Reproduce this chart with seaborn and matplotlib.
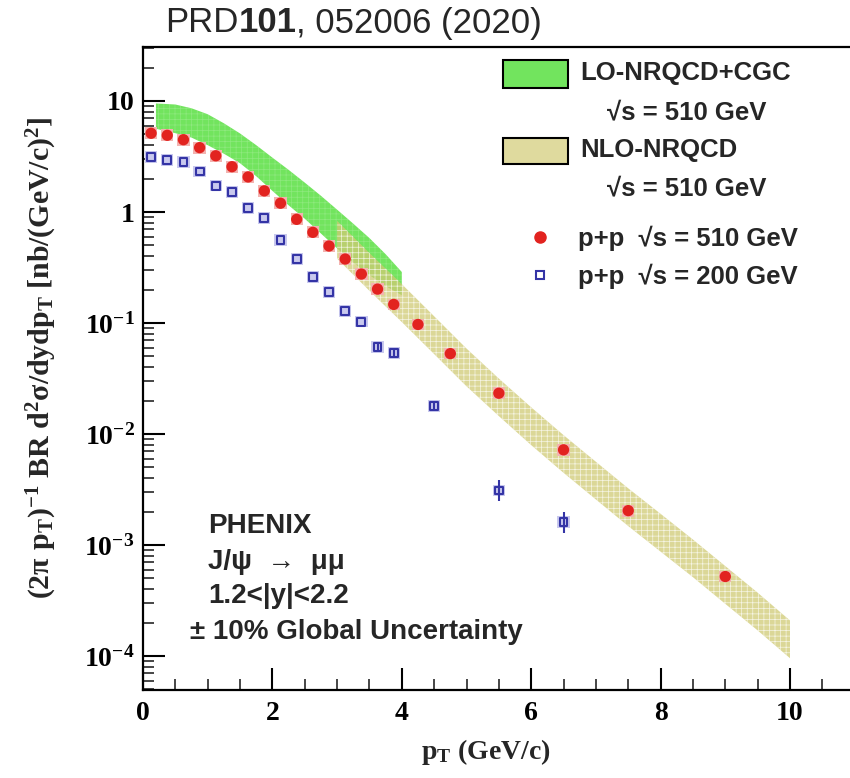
import matplotlib
matplotlib.use("Agg")
import matplotlib.pyplot as plt
import seaborn as sns
import numpy as np
import pandas as pd
from matplotlib.patches import Rectangle
from matplotlib.lines import Line2D
from matplotlib.ticker import LogLocator, MultipleLocator, NullFormatter, FixedLocator

# ---------------- data ----------------
pt_510 = [0.125, 0.375, 0.625, 0.875, 1.125, 1.375, 1.625, 1.875, 2.125, 2.375,
          2.625, 2.875, 3.125, 3.375, 3.625, 3.875, 4.25, 4.75, 5.5, 6.5, 7.5, 9.0]
xs_510 = [5.12, 4.91, 4.48, 3.80, 3.21, 2.56, 2.07, 1.55, 1.20, 0.859,
          0.656, 0.494, 0.377, 0.276, 0.202, 0.147, 0.097, 0.053, 0.0233, 0.0072, 0.00204, 0.00052]

pt_200 = [0.125, 0.375, 0.625, 0.875, 1.125, 1.375, 1.625, 1.875, 2.125, 2.375,
          2.625, 2.875, 3.125, 3.375, 3.625, 3.875, 4.5, 5.5, 6.5]
xs_200 = [3.15, 2.94, 2.80, 2.32, 1.73, 1.51, 1.08, 0.889, 0.56, 0.375,
          0.26, 0.189, 0.129, 0.103, 0.061, 0.054, 0.0179, 0.0031, 0.0016]
err_200_rel = [0, 0, 0, 0, 0, 0, 0, 0, 0, 0,
               0, 0, 0, 0, 0.10, 0.10, 0.08, 0.25, 0.25]

# LO-NRQCD+CGC band
cgc_pt = [0.2, 0.5, 0.75, 1.0, 1.25, 1.5, 1.75, 2.0, 2.25, 2.5, 2.75, 3.0, 3.25, 3.5, 3.75, 4.0]
cgc_hi = [9.5, 9.3, 8.6, 7.6, 6.3, 5.1, 4.0, 3.09, 2.40, 1.84, 1.40, 1.05, 0.785, 0.582, 0.417, 0.288]
cgc_lo = [5.62, 5.13, 4.68, 4.0, 3.35, 2.75, 2.10, 1.55, 1.15, 0.87, 0.64, 0.47, 0.35, 0.27, 0.215, 0.178]

# NLO-NRQCD band
nlo_pt = [3.0, 3.5, 4.0, 4.5, 5.0, 5.5, 6.0, 6.5, 7.0, 7.5, 8.0, 8.5, 9.0, 9.5, 10.0]
nlo_hi = [0.832, 0.427, 0.224, 0.115, 0.0589, 0.0316, 0.0174, 0.00977, 0.00562, 0.00324,
          0.00191, 0.00112, 0.000646, 0.000372, 0.000209]
nlo_lo = [0.380, 0.195, 0.102, 0.0525, 0.0269, 0.0145, 0.00794, 0.00447, 0.00257, 0.00148,
          0.000871, 0.000513, 0.000295, 0.000170, 0.0000955]

y_ticks = [1e-4, 1e-3, 1e-2, 1e-1, 1, 10]
y_tick_labels = [r"$10^{-4}$", r"$10^{-3}$", r"$10^{-2}$", r"$10^{-1}$", r"$1$", r"$10$"]
x_ticks = [0, 2, 4, 6, 8, 10]
x_tick_labels = ["0", "2", "4", "6", "8", "10"]

legend_labels = ["LO-NRQCD+CGC", "NLO-NRQCD", "p+p  \u221as = 510 GeV", "p+p  \u221as = 200 GeV"]
energy_label = "\u221as = 510 GeV"
info_lines = ["PHENIX", "J/\u03c8  \u2192  \u03bc\u03bc", "1.2<|y|<2.2", "\u00b1 10% Global Uncertainty"]

# ---------------- styling ----------------
sns.set_style("ticks")
plt.rcParams["font.family"] = ["Liberation Sans", "DejaVu Sans"]
plt.rcParams["mathtext.fontset"] = "custom"
plt.rcParams["mathtext.rm"] = "Liberation Serif:bold"
plt.rcParams["mathtext.it"] = "Liberation Serif:bold"
plt.rcParams["mathtext.bf"] = "Liberation Serif:bold"
plt.rcParams["mathtext.sf"] = "Liberation Serif:bold"
plt.rcParams["mathtext.default"] = "rm"
plt.rcParams["hatch.linewidth"] = 0.5

W, H = 850, 778
fig = plt.figure(figsize=(W / 100, H / 100), dpi=100)
fig.patch.set_facecolor("white")

def fx(px):
    return px / W

def fy(py):
    return 1 - py / H

ax_left, ax_right, ax_top, ax_bottom = 143, 850, 46.7, 690
ax = fig.add_axes([fx(ax_left), fy(ax_bottom), fx(ax_right - ax_left), (ax_bottom - ax_top) / H])
ax.set_facecolor("white")
ax.set_yscale("log")

GREEN = "#72e45e"
KHAKI = "#d0ca74"
RED = "#e2231f"
BLUE = "#3434a6"

# theory bands
ax.fill_between(cgc_pt, cgc_lo, cgc_hi, facecolor=GREEN, edgecolor=(1, 1, 1, 0.2),
                hatch="+++", lw=0, zorder=1)
ax.fill_between(nlo_pt, nlo_lo, nlo_hi, facecolor=KHAKI, alpha=0.75, edgecolor=(1, 1, 1, 0.25),
                hatch="+++", lw=0, zorder=1.5)

# systematic boxes
d510 = pd.DataFrame({"pt": pt_510, "y": xs_510})
d200 = pd.DataFrame({"pt": pt_200, "y": xs_200, "erel": err_200_rel})
box = 1.13
ax.bar(d510["pt"], d510["y"] * (box - 1 / box), bottom=d510["y"] / box, width=0.19,
       color="#f3b3b0", lw=0, zorder=2)
ax.bar(d200["pt"], d200["y"] * (box - 1 / box), bottom=d200["y"] / box, width=0.19,
       color="#c9c9ee", lw=0, zorder=2)

# statistical error bars (200 GeV)
ax.errorbar(d200["pt"], d200["y"],
            yerr=[d200["y"] * (1 - 1 / (1 + d200["erel"])), d200["y"] * d200["erel"]],
            fmt="none", ecolor=BLUE, elinewidth=1.5, capsize=0, zorder=3)

sns.scatterplot(data=d510, x="pt", y="y", ax=ax, marker="o", s=66, color=RED,
                edgecolor="none", linewidth=0, zorder=4, legend=False)
sns.scatterplot(data=d200, x="pt", y="y", ax=ax, marker="s", s=32, facecolor="none",
                edgecolor=BLUE, linewidth=1.5, zorder=4, legend=False)

ax.set_xlim(0, (ax_right - ax_left) / 64.7)
ax.set_ylim(10 ** (1 - (ax_bottom - 101) / 111), 10 ** (1 + (101 - ax_top) / 111))
ax.set_xlabel("")
ax.set_ylabel("")

ax.xaxis.set_major_locator(FixedLocator(x_ticks))
ax.set_xticklabels(x_tick_labels)
ax.xaxis.set_minor_locator(MultipleLocator(0.5))
ax.yaxis.set_major_locator(FixedLocator(y_ticks))
ax.set_yticklabels(y_tick_labels)
ax.yaxis.set_minor_locator(LogLocator(base=10, subs=np.arange(2, 10), numticks=30))
ax.yaxis.set_minor_formatter(NullFormatter())

ax.tick_params(which="major", direction="in", length=16, width=1.5, top=False, right=False,
               labelsize=20, pad=6, colors="black")
ax.tick_params(which="minor", direction="in", length=8, width=1.2, top=False, right=False)
ax.tick_params(axis="x", which="major", pad=8)
for lab in ax.get_xticklabels() + ax.get_yticklabels():
    lab.set_fontfamily("Liberation Serif")
    lab.set_fontweight("bold")

for s in ["left", "bottom", "top"]:
    ax.spines[s].set_linewidth(1.6)
    ax.spines[s].set_color("black")
ax.spines["right"].set_visible(False)

# axis titles
fig.text(fx(486), fy(752), r"$p_{T}$ (GeV/c)", ha="center", va="center", fontsize=20,
         family="Liberation Serif", weight="bold")
fig.text(fx(42), fy(358), r"$(2\pi\ p_{T})^{-1}$ BR $d^{2}\sigma/dydp_{T}$ [nb/(GeV/c)$^{2}$]",
         ha="center", va="center", rotation=90, fontsize=21.5,
         family="Liberation Serif", weight="bold")

# legend (drawn by hand)
def add_box(x0, y0, x1, y1, fc):
    fig.add_artist(Rectangle((fx(x0), fy(y1)), fx(x1 - x0), (y1 - y0) / H, facecolor=fc,
                             edgecolor="black", lw=1.5, transform=fig.transFigure))

add_box(503, 60, 568, 88, GREEN)
add_box(503, 138, 568, 164, "#dfda9e")
LFS = 18.5
fig.text(fx(580), fy(73), legend_labels[0], ha="left", va="center", fontsize=LFS, weight="bold")
fig.text(fx(607), fy(112), energy_label, ha="left", va="center", fontsize=LFS, weight="bold")
fig.text(fx(580), fy(150), legend_labels[1], ha="left", va="center", fontsize=LFS, weight="bold")
fig.text(fx(607), fy(188), energy_label, ha="left", va="center", fontsize=LFS, weight="bold")
fig.add_artist(Line2D([fx(540)], [fy(237)], marker="o", markersize=8, color=RED, lw=0,
                      transform=fig.transFigure))
fig.add_artist(Line2D([fx(540)], [fy(275)], marker="s", markersize=6, markerfacecolor="white",
                      markeredgecolor=BLUE, markeredgewidth=1.5, lw=0, transform=fig.transFigure))
fig.text(fx(578), fy(238), legend_labels[2], ha="left", va="center", fontsize=LFS, weight="bold")
fig.text(fx(578), fy(276), legend_labels[3], ha="left", va="center", fontsize=LFS, weight="bold")

# info text
IFS = 20
fig.text(fx(208), fy(526), info_lines[0], ha="left", va="center", fontsize=IFS, weight="bold")
fig.text(fx(208), fy(562), info_lines[1], ha="left", va="center", fontsize=IFS, weight="bold")
fig.text(fx(208), fy(596), info_lines[2], ha="left", va="center", fontsize=IFS, weight="bold")
fig.text(fx(190), fy(632), info_lines[3], ha="left", va="center", fontsize=IFS, weight="bold")

# title with mixed weight
fig.canvas.draw()
renderer = fig.canvas.get_renderer()
x_cur = 165
parts = [("PRD", "normal"), ("101", "bold"), (", 052006 (2020)", "normal")]
for txt, wt in parts:
    t = fig.text(fx(x_cur), fy(23), txt, ha="left", va="center", fontsize=25, weight=wt)
    bb = t.get_window_extent(renderer=renderer)
    x_cur += bb.width

fig.savefig("out.png", dpi=100, facecolor="white")
